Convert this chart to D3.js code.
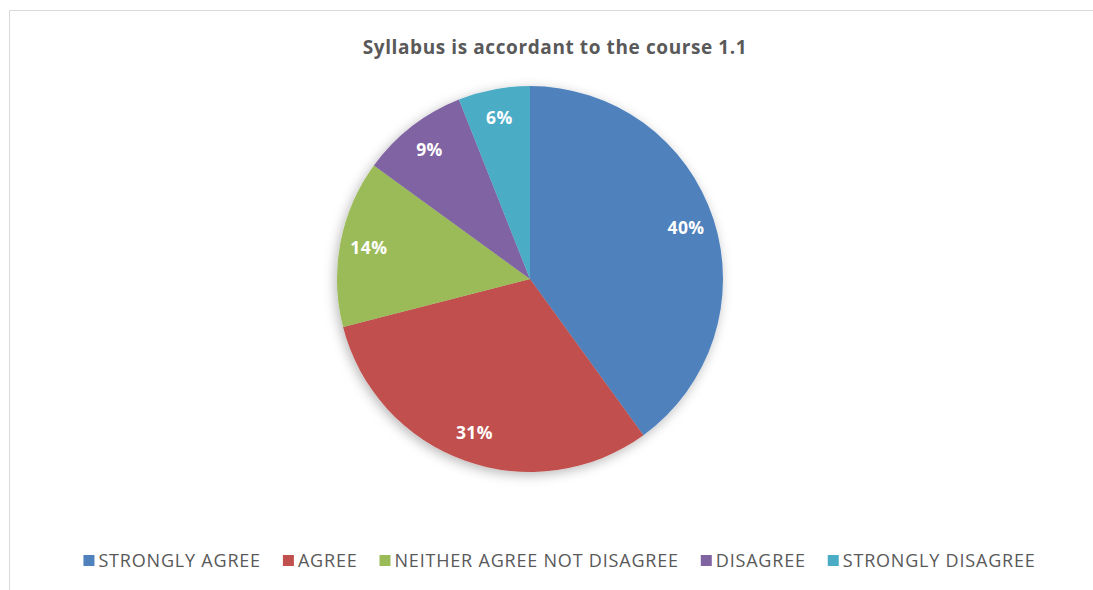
<!DOCTYPE html>
<html>
<head>
<meta charset="utf-8">
<script src="https://cdn.jsdelivr.net/npm/d3@7/dist/d3.min.js"></script>
<style>
  html, body { margin: 0; padding: 0; background: #ffffff; }
  svg { display: block; }
  text { font-family: "Open Sans", Lato, "Liberation Sans", sans-serif; }
</style>
</head>
<body>
<svg id="chart" width="1093" height="590"></svg>
<script>
const categories = ["STRONGLY AGREE", "AGREE", "NEITHER AGREE NOT DISAGREE", "DISAGREE", "STRONGLY DISAGREE"];
const values = [40, 31, 14, 9, 6];
const colors = ["#4F81BD", "#C0504D", "#9BBB59", "#8064A2", "#4BACC6"];
const title = "Syllabus is accordant to the course 1.1";

const svg = d3.select("#chart");
const W = 1093, H = 590;

// frame
svg.append("line").attr("x1", 9.5).attr("y1", 10.5).attr("x2", W).attr("y2", 10.5)
  .attr("stroke", "#d9d9d9").attr("stroke-width", 1);
svg.append("line").attr("x1", 9.5).attr("y1", 10.5).attr("x2", 9.5).attr("y2", H)
  .attr("stroke", "#d9d9d9").attr("stroke-width", 1);

// title
svg.append("text")
  .attr("x", 555).attr("y", 54)
  .attr("text-anchor", "middle")
  .attr("font-size", 19).attr("font-weight", "bold")
  .attr("letter-spacing", 0.6)
  .attr("fill", "#595959")
  .text(title);

// shadow filter
const defs = svg.append("defs");
const f = defs.append("filter").attr("id", "shadow").attr("x", "-20%").attr("y", "-20%").attr("width", "140%").attr("height", "140%");
f.append("feDropShadow").attr("dx", -2).attr("dy", 3).attr("stdDeviation", 6)
  .attr("flood-color", "#000").attr("flood-opacity", 0.28);

const cx = 530, cy = 279, R = 193;
const data = categories.map((c, i) => ({ cat: c, value: values[i], color: colors[i] }));
const pie = d3.pie().sort(null).value(d => d.value);
const arcs = pie(data);
const arc = d3.arc().innerRadius(0).outerRadius(R);
const labelArc = d3.arc().innerRadius(R * 0.85).outerRadius(R * 0.85);

const g = svg.append("g").attr("transform", `translate(${cx},${cy})`);
const slices = g.append("g").attr("filter", "url(#shadow)");
slices.selectAll("path").data(arcs).enter().append("path")
  .attr("d", arc)
  .attr("fill", d => d.data.color);

const total = d3.sum(values);
g.selectAll("text.lbl").data(arcs).enter().append("text")
  .attr("class", "lbl")
  .attr("transform", d => `translate(${labelArc.centroid(d)})`)
  .attr("text-anchor", "middle")
  .attr("dy", "0.35em")
  .attr("font-size", 17.5).attr("font-weight", "bold")
  .attr("letter-spacing", 0.4)
  .attr("fill", "#ffffff")
  .text(d => Math.round(d.data.value / total * 100) + "%");

// legend
const legend = svg.append("g");
const items = legend.selectAll("g").data(data).enter().append("g");
items.append("rect").attr("width", 11).attr("height", 11).attr("y", -12).attr("fill", d => d.color);
items.append("text").attr("x", 15).attr("y", 0)
  .attr("font-size", 18).attr("letter-spacing", 0.8).attr("fill", "#595959")
  .text(d => d.cat);
let x = 0;
const gap = 22;
items.each(function() {
  const t = d3.select(this).select("text").node().getComputedTextLength();
  d3.select(this).attr("transform", `translate(${x},0)`);
  x += 15 + t + gap;
});
const totalW = x - gap;
legend.attr("transform", `translate(${559.5 - totalW / 2},567)`);
</script>
</body>
</html>
